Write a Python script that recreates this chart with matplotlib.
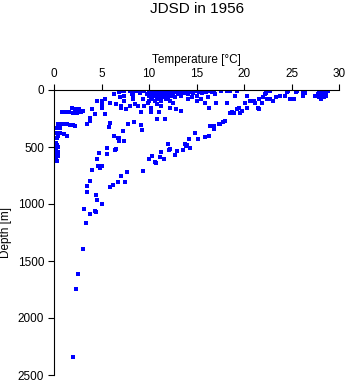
import matplotlib
matplotlib.use("Agg")
import matplotlib.pyplot as plt

plt.rcParams['font.family'] = ['Liberation Sans', 'DejaVu Sans']

title = "JDSD in 1956"
xlabel = "Temperature [°C]"
ylabel = "Depth [m]"
xticks = [0, 5, 10, 15, 20, 25, 30]
yticks = [0, 500, 1000, 1500, 2000, 2500]

# observations grouped by depth level (m): temperatures (deg C)
rows = [
    (8, [7.0, 7.4, 8.0, 8.6, 9.0, 9.5, 10.0, 10.3, 10.6, 10.9, 11.2, 11.5, 11.8, 12.1, 12.4, 12.7,
         13.0, 13.3, 13.6, 14.0, 14.4, 14.8, 15.1, 15.5, 15.9, 16.3, 16.8, 17.6, 18.2, 18.5, 19.3,
         22.7, 24.6, 25.6, 26.4, 28.0, 28.4, 28.8]),
    (15, [6.8, 8.3, 10.2, 10.5, 10.8, 11.1, 11.4, 11.7, 12.0, 12.3, 12.6, 12.9, 13.2, 13.5, 14.2,
          15.3, 16.0, 16.6, 24.5, 25.5, 26.2, 27.9, 28.3, 28.6]),
    (25, [9.0, 10.1, 10.4, 10.7, 11.0, 11.3, 11.6, 11.9, 12.2, 12.5, 13.8, 14.6, 15.6, 22.3, 26.4,
          28.1, 28.5]),
    (35, [6.3, 8.2, 9.8, 10.3, 10.6, 10.9, 11.2, 11.5, 11.8, 12.1, 12.4, 13.0, 14.1, 16.9, 22.2,
          27.8, 28.2]),
    (50, [7.4, 8.3, 10.0, 10.4, 10.7, 11.0, 11.3, 11.6, 11.9, 12.3, 13.4, 15.0, 19.1, 20.3, 23.8,
          24.3, 26.2, 27.5, 28.2, 28.6]),
    (65, [6.9, 10.2, 10.8, 11.4, 12.0, 12.7, 14.5, 16.2, 22.0, 23.4, 27.9, 28.4]),
    (80, [5.4, 8.3, 9.4, 10.3, 11.0, 11.8, 14.1, 15.5, 21.6, 22.4, 22.7, 24.8, 25.3, 28.1]),
    (95, [4.5, 5.05, 7.4, 10.0, 10.6, 11.3, 12.2, 15.0, 20.6, 21.0, 23.0]),
    (110, [5.9, 9.9, 12.5, 15.9, 17.1, 18.2, 21.2, 20.1, 21.9]),
    (125, [5.05, 6.5, 8.5, 10.8]),
    (140, [7.0, 8.0, 9.5, 8.8, 11.3]),
    (155, [1.9, 5.05, 7.1, 10.2, 12.2, 16.3, 19.5, 20.3, 21.5]),
    (165, [2.2, 2.6, 19.3, 21.6]),
    (170, [4.0, 7.6, 12.8]),
    (185, [3.1, 13.4, 19.8]),
    (195, [0.8, 1.2, 1.6, 2.8, 9.2, 10.2, 11.1, 18.7]),
    (205, [2.0, 2.4, 18.5, 18.9, 19.6]),
    (213, [4.35, 5.4]),
    (243, [3.8]),
    (251, [10.8]),
    (257, [11.7]),
    (270, [3.8, 18.0]),
    (280, [8.4, 17.8]),
    (287, [5.9]),
    (295, [0.4, 0.7, 1.0, 1.4, 17.5]),
    (300, [3.5, 7.8, 17.4]),
    (310, [1.7, 2.0, 9.2]),
    (316, [2.25, 16.4, 16.8]),
    (322, [5.75]),
    (330, [0.3, 0.6]),
    (339, [16.8]),
    (351, [9.3]),
    (360, [7.3]),
    (380, [0.3, 0.6, 14.8]),
    (389, [1.0]),
    (403, [0.4, 1.4, 6.3, 16.3]),
    (409, [15.9]),
    (418, [0.3, 6.7, 6.8]),
    (432, [14.2, 15.2]),
    (447, [6.8, 7.4]),
    (465, [0.2]),
    (476, [12.0, 13.8]),
    (485, [0.3, 14.0]),
    (491, [13.9]),
    (500, [0.4]),
    (506, [5.6, 14.3]),
    (520, [0.2, 6.5, 12.2]),
    (526, [6.4, 12.1, 13.6]),
    (532, [12.9]),
    (540, [0.4]),
    (547, [11.3]),
    (555, [0.3, 4.7]),
    (564, [5.6]),
    (570, [12.7]),
    (575, [0.4]),
    (579, [10.3]),
    (590, [0.2, 11.2]),
    (605, [4.5, 10.0]),
    (608, [11.6]),
    (620, [0.3]),
    (629, [10.6]),
    (643, [10.7]),
    (664, [4.6, 5.1]),
    (687, [4.8]),
    (702, [4.0]),
    (707, [9.4]),
    (722, [7.7]),
    (754, [7.1]),
    (798, [3.8]),
    (810, [6.7, 7.5]),
    (833, [6.2]),
    (842, [3.5]),
    (853, [5.9]),
    (898, [3.5]),
    (921, [4.4]),
    (965, [4.5]),
    (1000, [5.0]),
    (1046, [3.2]),
    (1061, [4.3]),
    (1072, [4.4]),
    (1090, [3.8]),
    (1169, [3.4]),
    (1397, [3.0]),
    (1616, [2.56]),
    (1748, [2.35]),
    (2342, [2.03]),
]

temperature = [t for d, ts in rows for t in ts]
depth = [d for d, ts in rows for t in ts]

fig = plt.figure(figsize=(3.48, 3.84), dpi=100)
ax = fig.add_axes([54 / 348, 1 - 375 / 384, 285 / 348, 285 / 384])

ax.scatter(temperature, depth, s=5, marker='s', color='#0000ff', linewidths=0)

ax.set_xlim(0, 30)
ax.set_ylim(2500, 0)
ax.xaxis.set_ticks_position('top')
ax.xaxis.set_label_position('top')
ax.set_xticks(xticks)
ax.set_yticks(yticks)
ax.spines['right'].set_visible(False)
ax.spines['bottom'].set_visible(False)
for s in ('top', 'left'):
    ax.spines[s].set_linewidth(0.8)
ax.tick_params(axis='both', direction='out', length=4, width=0.8, labelsize=8.5, pad=3)
ax.set_xlabel(xlabel, fontsize=8.5, labelpad=4)
ax.set_ylabel(ylabel, fontsize=8.5, labelpad=4)
fig.text(197 / 348, 1 - 9 / 384, title, ha='center', va='center', fontsize=11)

fig.savefig("out.png", dpi=100)
